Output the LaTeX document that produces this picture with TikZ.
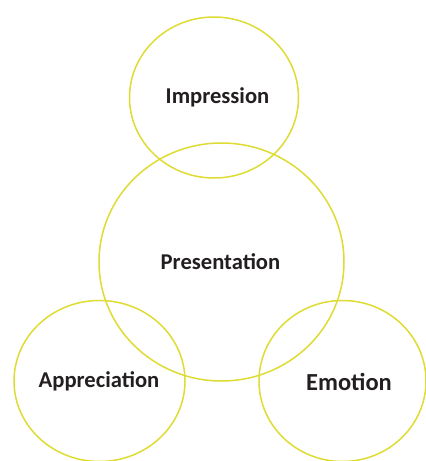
\documentclass[tikz,border=0pt]{standalone}
\usepackage{fontspec}
\setmainfont{Carlito}
\usepackage{xcolor}
\usepackage{tikz}
\usetikzlibrary{positioning, calc}

\definecolor{ringyellow}{RGB}{222,220,50}
\definecolor{labelgray}{RGB}{35,31,32}

\tikzset{
  ring/.style={line width=1.5pt, draw=ringyellow},
  ringtext/.style={font=\bfseries\fontsize{22.6}{25}\selectfont, text=labelgray, inner sep=0pt}
}

\begin{document}
\begin{tikzpicture}[x=1pt, y=-1pt]
  % Frame
  \useasboundingbox (0,0) rectangle (426,461);

  % Circle centres
  \coordinate (I) at (214,97.5);
  \coordinate (P) at (221.5,262);
  \coordinate (A) at (99.5,381);
  \coordinate (E) at (342.5,381);

  % Draw circles
  \draw[ring] (I) circle [x radius=84.5, y radius=80.5];
  \draw[ring] (P) circle [x radius=122.5, y radius=119];
  \draw[ring] (A) circle [x radius=85.5, y radius=80.5];
  \draw[ring] (E) circle [x radius=83.5, y radius=80.5];

  % Labels
  \node[ringtext] (impression) at (217.5,97) {Impression};
  \node[ringtext] (presentation) at (220.5,262) {Presentation};
  \node[ringtext] (appreciation) at (99,381) {Appreciation};
  \node[ringtext, font=\bfseries\fontsize{24.5}{27}\selectfont] (emotion) at (349,382) {Emotion};
\end{tikzpicture}
\end{document}
